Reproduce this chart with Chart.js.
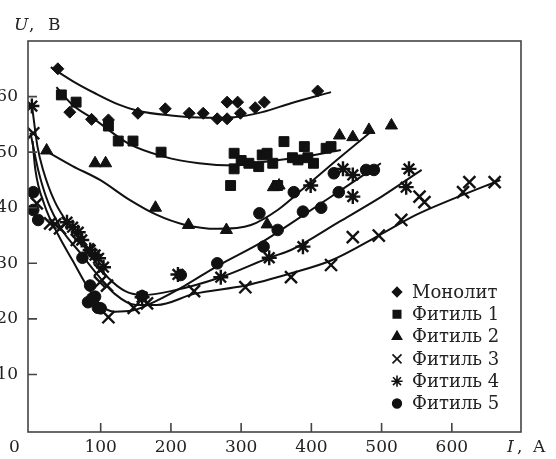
<!DOCTYPE html>
<html lang="ru">
<head>
<meta charset="UTF-8">
<title>U(I) — монолит и фитили</title>
<style>
    body { margin: 0; background: #fff; }
    #wrap { width: 556px; height: 459px; }
</style>
</head>
<body>
<div id="wrap"><canvas id="chart" width="556" height="459"></canvas></div>
<script src="https://cdn.jsdelivr.net/npm/chart.js"></script>
<script>
// axis ticks
const xTicks = [100, 200, 300, 400, 500, 600];
const yTicks = [10, 20, 30, 40, 50, 60];
const seriesNames = ['Монолит', 'Фитиль 1', 'Фитиль 2', 'Фитиль 3', 'Фитиль 4', 'Фитиль 5'];

// measured points [I, U]
const monolitPts = [[39,65],[56,57.2],[87,55.9],[111,55.8],[153,57],[192,57.8],[226,57],[246,57],[266,56],[280,56],[280,59],[295,59],[299,57],[320,58],[333,59],[409,61]];
const fitil1Pts = [[44,60.3],[65,59],[111,54.7],[125,52],[146,52],[186,50],[285,44],[290,49.8],[290,47],[300,48.5],[311,48],[325,47.4],[330,49.5],[337,49.8],[345,48],[352,44],[361,51.9],[373,49],[381,48.6],[390,51],[395,49],[403,48],[421,50.7],[428,51]];
const fitil2Pts = [[23,50.3],[92,48],[107,48],[178,40],[225,36.9],[279,36],[337,37],[346,43.7],[354,44],[440,53],[459,52.7],[482,54],[514,54.8]];
const fitil3Pts = [[4,53.4],[9,40.8],[28,37.2],[35,37],[42,36.3],[66,34.2],[82,32.5],[99,28.8],[99,26.6],[109,26],[111,20.3],[147,22],[166,22.8],[233,25],[306,25.7],[371,27.5],[428,29.7],[459,34.7],[496,35],[528,37.8],[554,42],[561,41],[616,42.8],[625,44.6],[661,44.6]];
const fitil4Pts = [[2,58.3],[52,37.4],[60,36.5],[68,35.6],[73,34.2],[85,32.4],[92,31.5],[97,30.9],[104,29.3],[159,23.9],[210,28],[271,27.5],[340,31],[388,33],[399,44],[445,47],[459,45.9],[459,42],[535,43.7],[539,47]];
const fitil5Pts = [[4,42.8],[4,39.6],[11,37.8],[74,31],[82,23],[85,26],[88,23.7],[92,24],[96,22],[100,21.9],[159,24.1],[214,27.9],[266,30],[326,39],[332,33],[352,36],[375,42.8],[388,39.3],[414,40],[432,46.2],[439,42.8],[478,46.8],[489,46.8]];

// fitted curves
const monolitCurve = [[29,65.3],[60,62.8],[92,60.6],[125,58.6],[154,57.4],[200,56.6],[250,56.2],[290,56.3],[330,57.2],[371,58.8],[428,60.8]];
const fitil1Curve = [[37,61.7],[60,58.5],[92,55.8],[139,51.6],[190,49.2],[240,48],[290,47.6],[337,48.3],[390,49.2],[442,50.4]];
const fitil2Curve = [[25,50],[60,47.5],[99,45],[140,41.5],[180,38.7],[218,37],[266,36.2],[314,36.9],[352,39.6],[389,43.5],[440,49],[488,54]];
const fitil3Curve = [[0,53.5],[11,46.8],[25,41],[45,36],[70,32],[95,28],[120,24.5],[150,22.5],[180,22.5],[233,24.5],[306,26],[371,28.2],[428,30.5],[496,35],[549,38.7],[600,41.5],[669,45]];
const fitil4Curve = [[2,58.5],[10,51],[18,46.8],[35,41],[60,36],[85,31.5],[110,27.5],[135,25],[160,24.3],[200,25],[271,27.5],[340,31],[371,32.4],[440,37.5],[500,42],[557,46.8]];
const fitil5Curve = [[3,52],[7,46.8],[20,40.5],[40,35],[60,30.5],[80,26],[100,22.5],[120,21.3],[145,21.5],[180,23.3],[220,26],[266,29.5],[332,34],[371,37.2],[440,43],[499,48]];

const allPts = [monolitPts, fitil1Pts, fitil2Pts, fitil3Pts, fitil4Pts, fitil5Pts];
const allCurves = [monolitCurve, fitil1Curve, fitil2Curve, fitil3Curve, fitil4Curve, fitil5Curve];

// marker look per series
const markers = [
    { style: 'rectRot', r: 6 },
    { style: 'rect', r: 7 },
    { style: 'triangle', r: 7 },
    { style: 'crossRot', r: 8.5 },
    { style: 'star', r: 7.5 },
    { style: 'circle', r: 5.8 }
];

const toXY = arr => arr.map(p => ({ x: p[0], y: p[1] }));

const datasets = [];
allCurves.forEach((c, i) => {
    datasets.push({
        label: seriesNames[i] + ' (кривая)',
        data: toXY(c),
        showLine: true,
        borderColor: '#111',
        borderWidth: 2,
        pointRadius: 0,
        cubicInterpolationMode: 'monotone',
        fill: false,
        order: 2
    });
});
allPts.forEach((p, i) => {
    datasets.push({
        label: seriesNames[i],
        data: toXY(p),
        showLine: false,
        pointStyle: markers[i].style,
        pointRadius: markers[i].r,
        pointBackgroundColor: '#111',
        pointBorderColor: '#111',
        pointBorderWidth: (markers[i].style === 'crossRot' || markers[i].style === 'star') ? 2.4 : 1,
        order: 1,
        isMarker: true
    });
});

const FONT = '"DejaVu Serif", serif';

// frame, inward ticks, axis titles and legend
const decor = {
    id: 'decor',
    afterDraw(chart) {
        const { ctx, chartArea: a, scales: { x, y } } = chart;
        ctx.save();
        ctx.strokeStyle = '#444';
        ctx.lineWidth = 1.6;
        ctx.strokeRect(a.left, a.top, a.right - a.left, a.bottom - a.top);

        ctx.beginPath();
        xTicks.forEach(v => {
            const px = x.getPixelForValue(v);
            ctx.moveTo(px, a.bottom);
            ctx.lineTo(px, a.bottom - 9);
        });
        yTicks.forEach(v => {
            const py = y.getPixelForValue(v);
            ctx.moveTo(a.left, py);
            ctx.lineTo(a.left + 9, py);
        });
        ctx.stroke();

        ctx.fillStyle = '#222';
        ctx.textBaseline = 'alphabetic';
        ctx.textAlign = 'left';
        ctx.font = '17px ' + FONT;
        ctx.fillText('0', 9, 452);

        // axis titles
        ctx.font = 'italic 17px ' + FONT;
        ctx.fillText('U', 14, 30);
        ctx.fillText('I', 507, 452);
        ctx.font = '17px ' + FONT;
        ctx.fillText(',', 29, 30);
        ctx.fillText('B', 48, 30);
        ctx.fillText(',', 517, 452);
        ctx.fillText('A', 533, 452);

        // legend
        ctx.textBaseline = 'middle';
        ctx.font = '18px ' + FONT;
        const markerSets = chart.data.datasets.filter(d => d.isMarker);
        markerSets.forEach((d, i) => {
            const cy = 292 + i * 22.3;
            ctx.fillStyle = '#111';
            ctx.strokeStyle = '#111';
            Chart.helpers.drawPoint(ctx, {
                pointStyle: d.pointStyle,
                radius: d.pointRadius * 0.75,
                borderWidth: d.pointBorderWidth,
                rotation: 0
            }, 397, cy);
            ctx.fillStyle = '#222';
            ctx.fillText(d.label, 412, cy + 1);
        });
        ctx.restore();
    }
};

Chart.defaults.font.family = FONT;
Chart.defaults.font.size = 17;
Chart.defaults.color = '#222';

new Chart(document.getElementById('chart'), {
    type: 'scatter',
    data: { datasets: datasets },
    options: {
        responsive: false,
        animation: false,
        layout: { padding: { top: 41, right: 35, left: 0, bottom: 0 } },
        plugins: {
            legend: { display: false },
            tooltip: { enabled: false }
        },
        scales: {
            x: {
                type: 'linear',
                min: -3.5,
                max: 698.5,
                afterBuildTicks: s => { s.ticks = xTicks.map(v => ({ value: v })); },
                afterFit: s => { s.height = 27; },
                grid: { display: false, drawTicks: false },
                border: { display: false },
                ticks: { padding: 5, maxRotation: 0, autoSkip: false }
            },
            y: {
                type: 'linear',
                min: -0.35,
                max: 70,
                afterBuildTicks: s => { s.ticks = yTicks.map(v => ({ value: v })); },
                afterFit: s => { s.width = 28; },
                grid: { display: false, drawTicks: false },
                border: { display: false },
                ticks: { padding: 10, autoSkip: false }
            }
        }
    },
    plugins: [decor]
});
</script>
</body>
</html>
